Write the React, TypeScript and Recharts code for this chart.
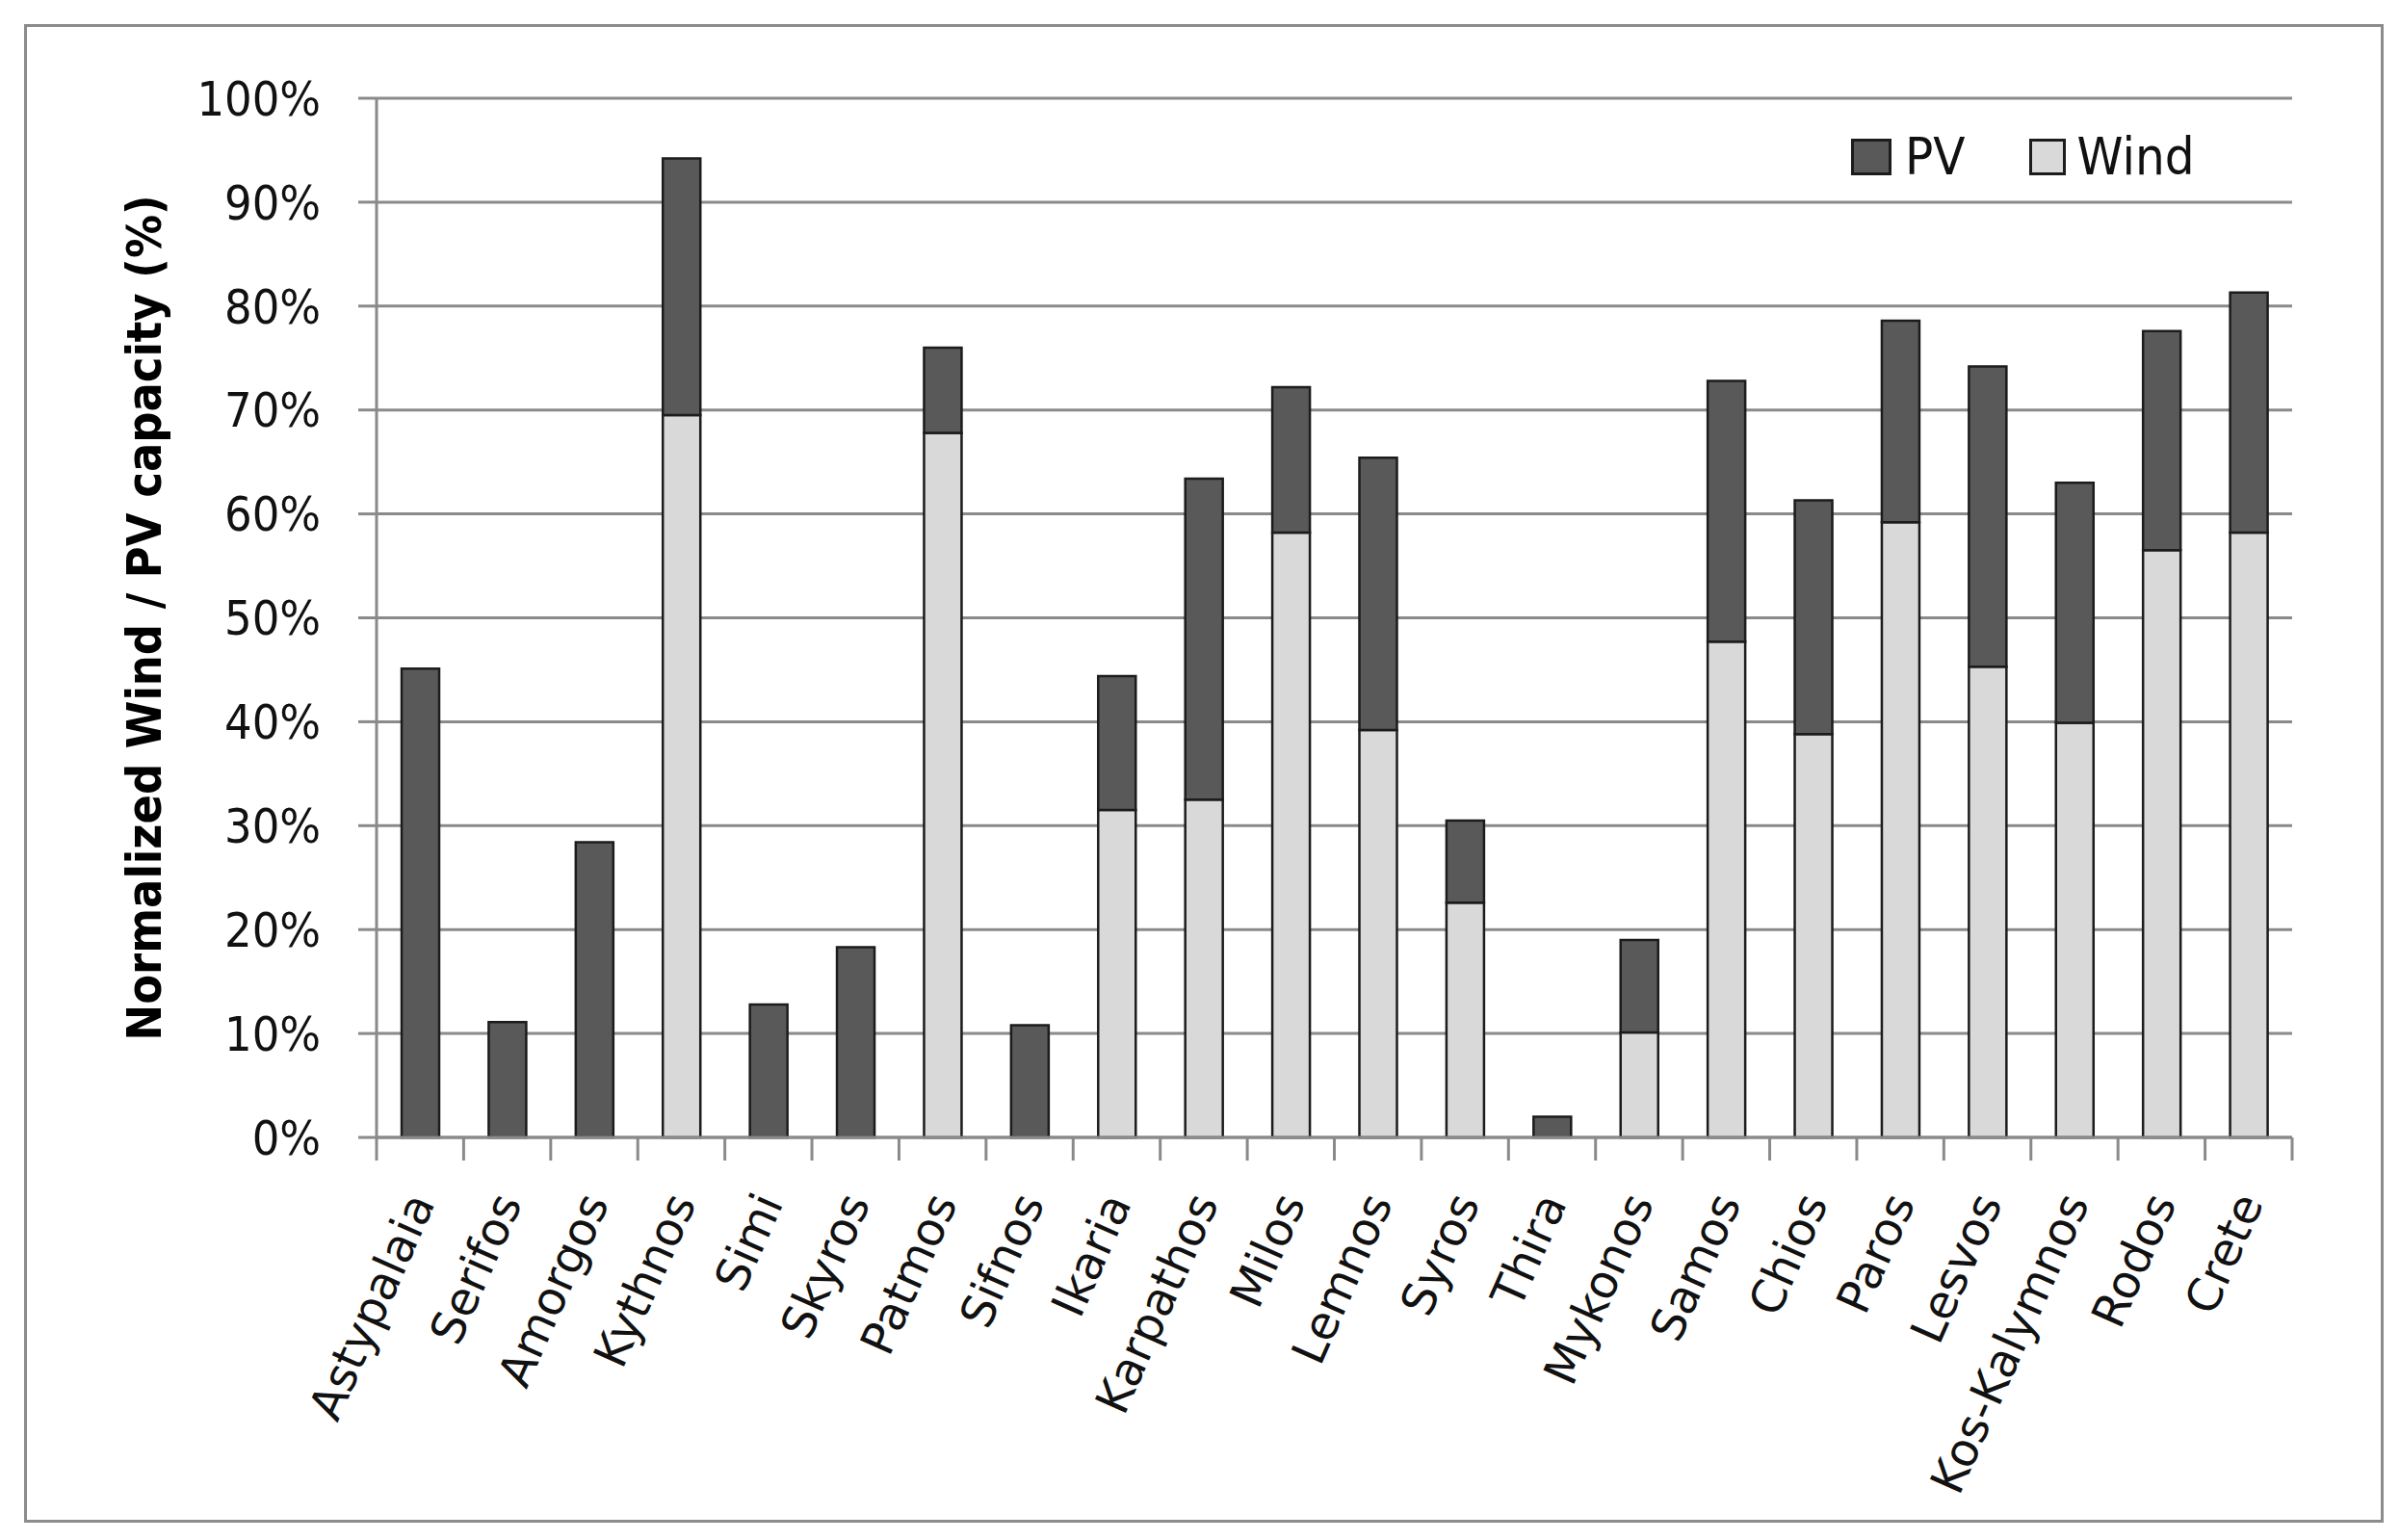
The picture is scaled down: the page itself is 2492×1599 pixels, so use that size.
import React from 'react';
import { BarChart, Bar, XAxis, YAxis, CartesianGrid, Label } from 'recharts';

const islands = [
  'Astypalaia', 'Serifos', 'Amorgos', 'Kythnos', 'Simi', 'Skyros', 'Patmos', 'Sifnos',
  'Ikaria', 'Karpathos', 'Milos', 'Lemnos', 'Syros', 'Thira', 'Mykonos', 'Samos',
  'Chios', 'Paros', 'Lesvos', 'Kos-Kalymnos', 'Rodos', 'Crete',
];

// share of wind capacity (bottom segment), % of peak load
const windShare = [
  0, 0, 0, 69.5, 0, 0, 67.8, 0,
  31.5, 32.5, 58.2, 39.2, 22.6, 0, 10.1, 47.7,
  38.8, 59.2, 45.3, 39.9, 56.5, 58.2,
];

// share of PV capacity (top segment)
const pvShare = [
  45.1, 11.1, 28.4, 24.7, 12.8, 18.3, 8.2, 10.8,
  12.9, 30.9, 14.0, 26.2, 7.9, 2.0, 8.9, 25.1,
  22.5, 19.4, 28.9, 23.1, 21.1, 23.1,
];

const yTicks = [0, 10, 20, 30, 40, 50, 60, 70, 80, 90, 100];

const data = islands.map((name, i) => ({ name, wind: windShare[i], pv: pvShare[i] }));

const W = 2492;
const H = 1599;
const PLOT_LEFT = 391;
const PLOT_RIGHT = 2380;
const PLOT_TOP = 102;
const PLOT_BOTTOM = 1181;
const CAT_W = (PLOT_RIGHT - PLOT_LEFT) / islands.length;

const GRID = '#8a8a8a';
const PV_FILL = '#595959';
const WIND_FILL = '#d9d9d9';
const EDGE = '#1c1c1c';

const IslandTick = (props: any) => {
  const { x, y, payload, index } = props;
  const isLast = index === islands.length - 1;
  const tx = x + 16;
  const ty = y + 68;
  return (
    <g>
      <line x1={x - CAT_W / 2} y1={y} x2={x - CAT_W / 2} y2={y + 24} stroke={GRID} strokeWidth={3} />
      {isLast && (
        <line x1={x + CAT_W / 2} y1={y} x2={x + CAT_W / 2} y2={y + 24} stroke={GRID} strokeWidth={3} />
      )}
      <text
        x={tx}
        y={ty}
        textAnchor="end"
        transform={`rotate(-66, ${tx}, ${ty})`}
        fontFamily="'DejaVu Sans', sans-serif"
        fontSize={48}
        fill="#111"
      >
        {payload.value}
      </text>
    </g>
  );
};

// legend drawn outside the chart so it doesn't take space from the plot
const LegendBox = () => (
  <div
    style={{
      position: 'absolute', left: 1922, top: 136, display: 'flex', alignItems: 'center',
      fontFamily: "'DejaVu Sans Condensed', sans-serif", fontSize: 54, color: '#111',
    }}
  >
    <div style={{ width: 36, height: 32, background: PV_FILL, border: `3px solid ${EDGE}` }} />
    <span style={{ marginLeft: 14, lineHeight: 1 }}>PV</span>
    <div style={{ width: 32, height: 32, background: WIND_FILL, border: `3px solid ${EDGE}`, marginLeft: 66 }} />
    <span style={{ marginLeft: 12, lineHeight: 1 }}>Wind</span>
  </div>
);

export default function App() {
  return (
    <div style={{ position: 'absolute', left: 0, top: 0, width: W, height: H, background: '#fff' }}>
      <div
        style={{
          position: 'absolute', left: 25, top: 25, width: 2444, height: 1550,
          border: '3px solid #8c8c8c', boxSizing: 'content-box',
        }}
      />
      <div style={{ position: 'absolute', left: 0, top: 0 }}>
        <BarChart
          width={W}
          height={H}
          data={data}
          margin={{ top: PLOT_TOP, right: W - PLOT_RIGHT, left: 0, bottom: 0 }}
          barSize={39}
        >
          <CartesianGrid vertical={false} stroke={GRID} strokeWidth={3} />
          <XAxis
            dataKey="name"
            interval={0}
            height={H - PLOT_BOTTOM}
            axisLine={{ stroke: GRID, strokeWidth: 3 }}
            tickLine={false}
            tickSize={0}
            tickMargin={0}
            tick={<IslandTick />}
          />
          <YAxis
            width={PLOT_LEFT}
            domain={[0, 100]}
            ticks={yTicks}
            interval={0}
            tickFormatter={(v: number) => `${v}%`}
            axisLine={{ stroke: GRID, strokeWidth: 3 }}
            tickLine={{ stroke: GRID, strokeWidth: 3 }}
            tickSize={19}
            tickMargin={39}
            tick={{ fontFamily: "'DejaVu Sans Condensed', sans-serif", fontSize: 50, fill: '#111' }}
          >
            <Label
              content={() => (
                <text
                  x={150}
                  y={(PLOT_TOP + PLOT_BOTTOM) / 2}
                  transform={`rotate(-90, 150, ${(PLOT_TOP + PLOT_BOTTOM) / 2})`}
                  textAnchor="middle"
                  dominantBaseline="central"
                  fontFamily="'DejaVu Sans Condensed', sans-serif"
                  fontWeight="bold"
                  fontSize={50}
                  fill="#000"
                >
                  Normalized Wind / PV capacity (%)
                </text>
              )}
            />
          </YAxis>
          <Bar dataKey="wind" name="Wind" stackId="cap" fill={WIND_FILL} stroke={EDGE} strokeWidth={2.5} isAnimationActive={false} />
          <Bar dataKey="pv" name="PV" stackId="cap" fill={PV_FILL} stroke={EDGE} strokeWidth={2.5} isAnimationActive={false} />
        </BarChart>
      </div>
      <LegendBox />
    </div>
  );
}
